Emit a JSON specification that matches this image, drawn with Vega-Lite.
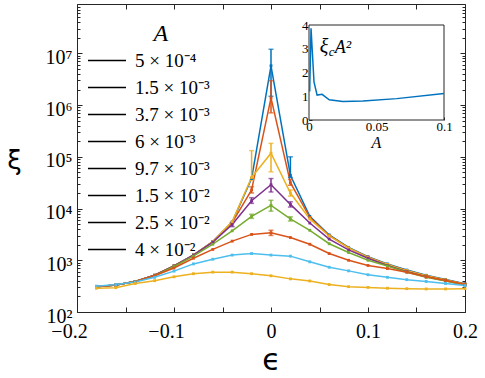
{
  "$schema": "https://vega.github.io/schema/vega-lite/v6.json",
  "width": 388,
  "height": 308,
  "autosize": {"type": "none"},
  "padding": {"left": 77, "top": 4, "right": 20, "bottom": 66},
  "background": "white",
  "config": {
    "view": {"stroke": "#262626", "strokeWidth": 1},
    "axis": {"grid": false, "domain": false, "labelFont": "Liberation Serif", "labelColor": "#000", "tickColor": "#262626", "tickWidth": 1, "titleColor": "#000", "titleFontWeight": "normal", "labelOverlap": false, "labelFlush": false}
  },
  "datasets": {
    "main": [
      {"A": "5 × 10⁻⁴", "eps": -0.18, "xi": 309}, {"A": "5 × 10⁻⁴", "eps": -0.16, "xi": 331}, {"A": "5 × 10⁻⁴", "eps": -0.14, "xi": 389}, {"A": "5 × 10⁻⁴", "eps": -0.12, "xi": 513}, {"A": "5 × 10⁻⁴", "eps": -0.1, "xi": 776}, {"A": "5 × 10⁻⁴", "eps": -0.08, "xi": 1259}, {"A": "5 × 10⁻⁴", "eps": -0.06, "xi": 2291}, {"A": "5 × 10⁻⁴", "eps": -0.04, "xi": 5495}, {"A": "5 × 10⁻⁴", "eps": -0.02, "xi": 38019}, {"A": "5 × 10⁻⁴", "eps": 0, "xi": 5754000, "lo": 1480000, "hi": 12000000}, {"A": "5 × 10⁻⁴", "eps": 0.02, "xi": 44000, "lo": 40000, "hi": 100000}, {"A": "5 × 10⁻⁴", "eps": 0.04, "xi": 7079}, {"A": "5 × 10⁻⁴", "eps": 0.06, "xi": 3090}, {"A": "5 × 10⁻⁴", "eps": 0.08, "xi": 1778}, {"A": "5 × 10⁻⁴", "eps": 0.1, "xi": 1175}, {"A": "5 × 10⁻⁴", "eps": 0.12, "xi": 851}, {"A": "5 × 10⁻⁴", "eps": 0.14, "xi": 646}, {"A": "5 × 10⁻⁴", "eps": 0.16, "xi": 513}, {"A": "5 × 10⁻⁴", "eps": 0.18, "xi": 427}, {"A": "5 × 10⁻⁴", "eps": 0.2, "xi": 351},
      {"A": "1.5 × 10⁻³", "eps": -0.18, "xi": 309}, {"A": "1.5 × 10⁻³", "eps": -0.16, "xi": 331}, {"A": "1.5 × 10⁻³", "eps": -0.14, "xi": 389}, {"A": "1.5 × 10⁻³", "eps": -0.12, "xi": 513}, {"A": "1.5 × 10⁻³", "eps": -0.1, "xi": 776}, {"A": "1.5 × 10⁻³", "eps": -0.08, "xi": 1259}, {"A": "1.5 × 10⁻³", "eps": -0.06, "xi": 2291}, {"A": "1.5 × 10⁻³", "eps": -0.04, "xi": 5370}, {"A": "1.5 × 10⁻³", "eps": -0.02, "xi": 22909, "lo": 20000, "hi": 26300}, {"A": "1.5 × 10⁻³", "eps": 0, "xi": 1380000, "lo": 708000, "hi": 2950000}, {"A": "1.5 × 10⁻³", "eps": 0.02, "xi": 31623, "lo": 28200, "hi": 36300}, {"A": "1.5 × 10⁻³", "eps": 0.04, "xi": 6761}, {"A": "1.5 × 10⁻³", "eps": 0.06, "xi": 3020}, {"A": "1.5 × 10⁻³", "eps": 0.08, "xi": 1738}, {"A": "1.5 × 10⁻³", "eps": 0.1, "xi": 1148}, {"A": "1.5 × 10⁻³", "eps": 0.12, "xi": 832}, {"A": "1.5 × 10⁻³", "eps": 0.14, "xi": 631}, {"A": "1.5 × 10⁻³", "eps": 0.16, "xi": 501}, {"A": "1.5 × 10⁻³", "eps": 0.18, "xi": 417}, {"A": "1.5 × 10⁻³", "eps": 0.2, "xi": 347},
      {"A": "3.7 × 10⁻³", "eps": -0.18, "xi": 309}, {"A": "3.7 × 10⁻³", "eps": -0.16, "xi": 331}, {"A": "3.7 × 10⁻³", "eps": -0.14, "xi": 389}, {"A": "3.7 × 10⁻³", "eps": -0.12, "xi": 513}, {"A": "3.7 × 10⁻³", "eps": -0.1, "xi": 776}, {"A": "3.7 × 10⁻³", "eps": -0.08, "xi": 1259}, {"A": "3.7 × 10⁻³", "eps": -0.06, "xi": 2291}, {"A": "3.7 × 10⁻³", "eps": -0.04, "xi": 5623}, {"A": "3.7 × 10⁻³", "eps": -0.02, "xi": 39811, "lo": 35500, "hi": 131800}, {"A": "3.7 × 10⁻³", "eps": 0, "xi": 117490, "lo": 51300, "hi": 182000}, {"A": "3.7 × 10⁻³", "eps": 0.02, "xi": 19953, "lo": 17400, "hi": 22900}, {"A": "3.7 × 10⁻³", "eps": 0.04, "xi": 6310}, {"A": "3.7 × 10⁻³", "eps": 0.06, "xi": 2951}, {"A": "3.7 × 10⁻³", "eps": 0.08, "xi": 1738}, {"A": "3.7 × 10⁻³", "eps": 0.1, "xi": 1148}, {"A": "3.7 × 10⁻³", "eps": 0.12, "xi": 832}, {"A": "3.7 × 10⁻³", "eps": 0.14, "xi": 631}, {"A": "3.7 × 10⁻³", "eps": 0.16, "xi": 501}, {"A": "3.7 × 10⁻³", "eps": 0.18, "xi": 417}, {"A": "3.7 × 10⁻³", "eps": 0.2, "xi": 343},
      {"A": "6 × 10⁻³", "eps": -0.18, "xi": 309}, {"A": "6 × 10⁻³", "eps": -0.16, "xi": 331}, {"A": "6 × 10⁻³", "eps": -0.14, "xi": 389}, {"A": "6 × 10⁻³", "eps": -0.12, "xi": 513}, {"A": "6 × 10⁻³", "eps": -0.1, "xi": 776}, {"A": "6 × 10⁻³", "eps": -0.08, "xi": 1259}, {"A": "6 × 10⁻³", "eps": -0.06, "xi": 2239}, {"A": "6 × 10⁻³", "eps": -0.04, "xi": 4898, "lo": 4470, "hi": 5370}, {"A": "6 × 10⁻³", "eps": -0.02, "xi": 14125, "lo": 12600, "hi": 16200}, {"A": "6 × 10⁻³", "eps": 0, "xi": 28840, "lo": 20900, "hi": 38000}, {"A": "6 × 10⁻³", "eps": 0.02, "xi": 12023, "lo": 10700, "hi": 13500}, {"A": "6 × 10⁻³", "eps": 0.04, "xi": 5248}, {"A": "6 × 10⁻³", "eps": 0.06, "xi": 2570}, {"A": "6 × 10⁻³", "eps": 0.08, "xi": 1585}, {"A": "6 × 10⁻³", "eps": 0.1, "xi": 1096}, {"A": "6 × 10⁻³", "eps": 0.12, "xi": 794}, {"A": "6 × 10⁻³", "eps": 0.14, "xi": 603}, {"A": "6 × 10⁻³", "eps": 0.16, "xi": 479}, {"A": "6 × 10⁻³", "eps": 0.18, "xi": 403}, {"A": "6 × 10⁻³", "eps": 0.2, "xi": 331},
      {"A": "9.7 × 10⁻³", "eps": -0.18, "xi": 309}, {"A": "9.7 × 10⁻³", "eps": -0.16, "xi": 331}, {"A": "9.7 × 10⁻³", "eps": -0.14, "xi": 389}, {"A": "9.7 × 10⁻³", "eps": -0.12, "xi": 501}, {"A": "9.7 × 10⁻³", "eps": -0.1, "xi": 759}, {"A": "9.7 × 10⁻³", "eps": -0.08, "xi": 1202}, {"A": "9.7 × 10⁻³", "eps": -0.06, "xi": 2042}, {"A": "9.7 × 10⁻³", "eps": -0.04, "xi": 3715}, {"A": "9.7 × 10⁻³", "eps": -0.02, "xi": 7079, "lo": 6460, "hi": 7760}, {"A": "9.7 × 10⁻³", "eps": 0, "xi": 11482, "lo": 8910, "hi": 14450}, {"A": "9.7 × 10⁻³", "eps": 0.02, "xi": 6310, "lo": 5750, "hi": 6920}, {"A": "9.7 × 10⁻³", "eps": 0.04, "xi": 3802}, {"A": "9.7 × 10⁻³", "eps": 0.06, "xi": 2089}, {"A": "9.7 × 10⁻³", "eps": 0.08, "xi": 1413}, {"A": "9.7 × 10⁻³", "eps": 0.1, "xi": 1000}, {"A": "9.7 × 10⁻³", "eps": 0.12, "xi": 776}, {"A": "9.7 × 10⁻³", "eps": 0.14, "xi": 589}, {"A": "9.7 × 10⁻³", "eps": 0.16, "xi": 468}, {"A": "9.7 × 10⁻³", "eps": 0.18, "xi": 398}, {"A": "9.7 × 10⁻³", "eps": 0.2, "xi": 331},
      {"A": "1.5 × 10⁻²", "eps": -0.18, "xi": 309}, {"A": "1.5 × 10⁻²", "eps": -0.16, "xi": 331}, {"A": "1.5 × 10⁻²", "eps": -0.14, "xi": 389}, {"A": "1.5 × 10⁻²", "eps": -0.12, "xi": 501}, {"A": "1.5 × 10⁻²", "eps": -0.1, "xi": 708}, {"A": "1.5 × 10⁻²", "eps": -0.08, "xi": 1096}, {"A": "1.5 × 10⁻²", "eps": -0.06, "xi": 1622}, {"A": "1.5 × 10⁻²", "eps": -0.04, "xi": 2344}, {"A": "1.5 × 10⁻²", "eps": -0.02, "xi": 3162}, {"A": "1.5 × 10⁻²", "eps": 0, "xi": 3388, "lo": 3020, "hi": 3800}, {"A": "1.5 × 10⁻²", "eps": 0.02, "xi": 2754}, {"A": "1.5 × 10⁻²", "eps": 0.04, "xi": 2042}, {"A": "1.5 × 10⁻²", "eps": 0.06, "xi": 1349}, {"A": "1.5 × 10⁻²", "eps": 0.08, "xi": 1000}, {"A": "1.5 × 10⁻²", "eps": 0.1, "xi": 794}, {"A": "1.5 × 10⁻²", "eps": 0.12, "xi": 692}, {"A": "1.5 × 10⁻²", "eps": 0.14, "xi": 589}, {"A": "1.5 × 10⁻²", "eps": 0.16, "xi": 479}, {"A": "1.5 × 10⁻²", "eps": 0.18, "xi": 407}, {"A": "1.5 × 10⁻²", "eps": 0.2, "xi": 339},
      {"A": "2.5 × 10⁻²", "eps": -0.18, "xi": 316}, {"A": "2.5 × 10⁻²", "eps": -0.16, "xi": 339}, {"A": "2.5 × 10⁻²", "eps": -0.14, "xi": 380}, {"A": "2.5 × 10⁻²", "eps": -0.12, "xi": 468}, {"A": "2.5 × 10⁻²", "eps": -0.1, "xi": 617}, {"A": "2.5 × 10⁻²", "eps": -0.08, "xi": 851}, {"A": "2.5 × 10⁻²", "eps": -0.06, "xi": 1047}, {"A": "2.5 × 10⁻²", "eps": -0.04, "xi": 1259}, {"A": "2.5 × 10⁻²", "eps": -0.02, "xi": 1349}, {"A": "2.5 × 10⁻²", "eps": 0, "xi": 1259}, {"A": "2.5 × 10⁻²", "eps": 0.02, "xi": 1202}, {"A": "2.5 × 10⁻²", "eps": 0.04, "xi": 933}, {"A": "2.5 × 10⁻²", "eps": 0.06, "xi": 733}, {"A": "2.5 × 10⁻²", "eps": 0.08, "xi": 624}, {"A": "2.5 × 10⁻²", "eps": 0.1, "xi": 525}, {"A": "2.5 × 10⁻²", "eps": 0.12, "xi": 468}, {"A": "2.5 × 10⁻²", "eps": 0.14, "xi": 422}, {"A": "2.5 × 10⁻²", "eps": 0.16, "xi": 389}, {"A": "2.5 × 10⁻²", "eps": 0.18, "xi": 355}, {"A": "2.5 × 10⁻²", "eps": 0.2, "xi": 324},
      {"A": "4 × 10⁻²", "eps": -0.18, "xi": 288}, {"A": "4 × 10⁻²", "eps": -0.16, "xi": 295}, {"A": "4 × 10⁻²", "eps": -0.14, "xi": 355}, {"A": "4 × 10⁻²", "eps": -0.12, "xi": 403}, {"A": "4 × 10⁻²", "eps": -0.1, "xi": 479}, {"A": "4 × 10⁻²", "eps": -0.08, "xi": 550}, {"A": "4 × 10⁻²", "eps": -0.06, "xi": 589}, {"A": "4 × 10⁻²", "eps": -0.04, "xi": 589}, {"A": "4 × 10⁻²", "eps": -0.02, "xi": 550}, {"A": "4 × 10⁻²", "eps": 0, "xi": 501}, {"A": "4 × 10⁻²", "eps": 0.02, "xi": 437}, {"A": "4 × 10⁻²", "eps": 0.04, "xi": 398}, {"A": "4 × 10⁻²", "eps": 0.06, "xi": 339}, {"A": "4 × 10⁻²", "eps": 0.08, "xi": 309}, {"A": "4 × 10⁻²", "eps": 0.1, "xi": 299}, {"A": "4 × 10⁻²", "eps": 0.12, "xi": 288}, {"A": "4 × 10⁻²", "eps": 0.14, "xi": 282}, {"A": "4 × 10⁻²", "eps": 0.16, "xi": 279}, {"A": "4 × 10⁻²", "eps": 0.18, "xi": 279}, {"A": "4 × 10⁻²", "eps": 0.2, "xi": 282}
    ],
    "inset": [
      {"A": 0.0005, "v": 1.2}, {"A": 0.0015, "v": 3.86}, {"A": 0.0037, "v": 1.6}, {"A": 0.006, "v": 1.05}, {"A": 0.0097, "v": 1.08}, {"A": 0.015, "v": 0.85}, {"A": 0.025, "v": 0.78}, {"A": 0.04, "v": 0.8}, {"A": 0.065, "v": 0.9}, {"A": 0.1, "v": 1.12}
    ]
  },
  "layer": [
    {
      "data": {"name": "main"},
      "layer": [
        {
          "mark": {"type": "line", "strokeWidth": 1.5},
          "encoding": {
            "x": {"field": "eps", "type": "quantitative", "scale": {"domain": [-0.2, 0.2], "nice": false, "zero": false},
              "axis": {"orient": "bottom", "values": [-0.2, -0.15, -0.1, -0.05, 0, 0.05, 0.1, 0.15, 0.2],
                "labelExpr": "abs(datum.value*10 - round(datum.value*10)) < 0.001 ? replace(format(datum.value, '.1~f'), '-', '−') : ''",
                "labelFontSize": 20, "tickSize": -5, "labelPadding": 14, "labelBaseline": "top",
                "labelOffset": {"condition": {"test": "datum.value < 0", "value": -8}, "value": 0},
                "title": "ϵ", "titleFont": "DejaVu Sans", "titleFontSize": 30, "titleX": 194, "titleY": 57, "titleAlign": "center", "titleBaseline": "alphabetic"}},
            "y": {"field": "xi", "type": "quantitative", "scale": {"type": "log", "domain": [100, 90000000], "nice": false},
              "axis": {"orient": "left",
                "values": [100,200,300,400,500,600,700,800,900,1000,2000,3000,4000,5000,6000,7000,8000,9000,10000,20000,30000,40000,50000,60000,70000,80000,90000,100000,200000,300000,400000,500000,600000,700000,800000,900000,1000000,2000000,3000000,4000000,5000000,6000000,7000000,8000000,9000000,10000000,20000000,30000000,40000000,50000000,60000000,70000000,80000000],
                "labelExpr": "abs(log(datum.value)/LN10 - round(log(datum.value)/LN10)) < 1e-6 ? '10' + ['⁰','¹','²','³','⁴','⁵','⁶','⁷','⁸','⁹'][round(log(datum.value)/LN10)] : ''",
                "tickSize": {"condition": {"test": "abs(log(datum.value)/LN10 - round(log(datum.value)/LN10)) < 1e-6", "value": -5}, "value": -3},
                "labelFontSize": 20, "labelPadding": 10, "labelBaseline": "middle", "labelOffset": 4,
                "title": "ξ", "titleAngle": 0, "titleFont": "DejaVu Sans", "titleFontSize": 26, "titleX": -63, "titleY": 156, "titleAlign": "center", "titleBaseline": "middle"}},
            "color": {"field": "A", "type": "nominal",
              "scale": {"domain": ["5 × 10⁻⁴", "1.5 × 10⁻³", "3.7 × 10⁻³", "6 × 10⁻³", "9.7 × 10⁻³", "1.5 × 10⁻²", "2.5 × 10⁻²", "4 × 10⁻²"],
                "range": ["#0072BD", "#D95319", "#EDB120", "#7E2F8E", "#77AC30", "#D95319", "#4DBEEE", "#EDB120"]},
              "legend": null}
          }
        },
        {
          "transform": [{"filter": "isValid(datum.hi)"}],
          "mark": {"type": "rule", "strokeWidth": 1.5},
          "encoding": {
            "x": {"field": "eps", "type": "quantitative"},
            "y": {"field": "lo", "type": "quantitative", "scale": {"type": "log", "domain": [100, 90000000], "nice": false}},
            "y2": {"field": "hi"},
            "color": {"field": "A", "type": "nominal", "legend": null}
          }
        },
        {
          "transform": [{"filter": "isValid(datum.hi)"}],
          "mark": {"type": "tick", "orient": "horizontal", "size": 5, "thickness": 1.5},
          "encoding": {
            "x": {"field": "eps", "type": "quantitative"},
            "y": {"field": "hi", "type": "quantitative", "scale": {"type": "log", "domain": [100, 90000000], "nice": false}},
            "color": {"field": "A", "type": "nominal", "legend": null}
          }
        },
        {
          "transform": [{"filter": "isValid(datum.lo)"}],
          "mark": {"type": "tick", "orient": "horizontal", "size": 5, "thickness": 1.5},
          "encoding": {
            "x": {"field": "eps", "type": "quantitative"},
            "y": {"field": "lo", "type": "quantitative", "scale": {"type": "log", "domain": [100, 90000000], "nice": false}},
            "color": {"field": "A", "type": "nominal", "legend": null}
          }
        },
        {
          "mark": {"type": "point", "shape": "square", "filled": true, "size": 8, "opacity": 1},
          "encoding": {
            "x": {"field": "eps", "type": "quantitative"},
            "y": {"field": "xi", "type": "quantitative", "scale": {"type": "log", "domain": [100, 90000000], "nice": false}},
            "color": {"field": "A", "type": "nominal", "legend": null}
          }
        },
        {
          "mark": {"type": "point", "filled": false, "color": "#000", "strokeWidth": 1.3, "opacity": 0},
          "encoding": {
            "x": {"field": "eps", "type": "quantitative"},
            "y": {"field": "xi", "type": "quantitative", "scale": {"type": "log", "domain": [100, 90000000], "nice": false}},
            "shape": {"field": "A", "type": "nominal",
              "sort": ["5 × 10⁻⁴", "1.5 × 10⁻³", "3.7 × 10⁻³", "6 × 10⁻³", "9.7 × 10⁻³", "1.5 × 10⁻²", "2.5 × 10⁻²", "4 × 10⁻²"],
              "scale": {"range": ["M-2,0H2", "M-2,0H2", "M-2,0H2", "M-2,0H2", "M-2,0H2", "M-2,0H2", "M-2,0H2", "M-2,0H2"]},
              "legend": {"orient": "none", "legendX": 19.5, "legendY": 18, "padding": 0,
                "title": "A", "titleFont": "Liberation Serif", "titleFontStyle": "italic", "titleFontSize": 24, "titleFontWeight": "normal", "titleColor": "#000", "titleAnchor": "middle", "titleAlign": "left", "titlePadding": 4,
                "labelFont": "Liberation Serif", "labelFontSize": 19, "labelColor": "#000", "labelOffset": 17.5,
                "symbolSize": 361, "symbolStrokeWidth": 1.3, "symbolStrokeColor": "#000", "symbolFillColor": "transparent", "symbolOpacity": 1, "rowPadding": 6}}
          }
        }
      ]
    },
    {
      "data": {"values": [{}]},
      "mark": {"type": "point", "opacity": 0},
      "encoding": {
        "x": {"datum": 0, "type": "quantitative", "scale": {"domain": [-0.2, 0.2], "nice": false, "zero": false},
          "axis": {"orient": "top", "values": [-0.2, -0.15, -0.1, -0.05, 0, 0.05, 0.1, 0.15, 0.2], "labels": false, "tickSize": -5, "title": null}},
        "y": {"datum": 1000, "type": "quantitative", "scale": {"type": "log", "domain": [100, 90000000], "nice": false},
          "axis": {"orient": "right", "labels": false, "title": null,
            "values": [100,200,300,400,500,600,700,800,900,1000,2000,3000,4000,5000,6000,7000,8000,9000,10000,20000,30000,40000,50000,60000,70000,80000,90000,100000,200000,300000,400000,500000,600000,700000,800000,900000,1000000,2000000,3000000,4000000,5000000,6000000,7000000,8000000,9000000,10000000,20000000,30000000,40000000,50000000,60000000,70000000,80000000],
            "tickSize": {"condition": {"test": "abs(log(datum.value)/LN10 - round(log(datum.value)/LN10)) < 1e-6", "value": -5}, "value": -3}}}
      }
    },
    {
      "layer": [
        {
          "data": {"values": [{}]},
          "mark": {"type": "rect", "fill": "white", "stroke": "#262626", "strokeWidth": 1},
          "encoding": {
            "x": {"datum": 0, "type": "quantitative", "scale": {"domain": [0, 0.1], "range": [232, 367], "nice": false, "zero": false},
              "axis": {"orient": "bottom", "offset": -192, "values": [0, 0.05, 0.1], "labelFontSize": 13, "tickSize": -3, "labelPadding": 3.5, "labelBaseline": "top",
                "labelExpr": "format(datum.value, '~g')",
                "title": "A", "titleFont": "Liberation Serif", "titleFontStyle": "italic", "titleFontSize": 16, "titleX": 299, "titleY": 27, "titleAlign": "center", "titleBaseline": "alphabetic"}},
            "x2": {"datum": 0.1},
            "y": {"datum": 0, "type": "quantitative", "scale": {"domain": [0, 4], "range": [116, 21], "nice": false, "zero": false},
              "axis": {"orient": "left", "offset": -232, "values": [0, 1, 2, 3, 4], "labelExpr": "format(datum.value, '~g')", "labelFontSize": 13, "tickSize": -3, "labelPadding": 4, "title": null}},
            "y2": {"datum": 4}
          }
        },
        {
          "data": {"name": "inset"},
          "mark": {"type": "line", "color": "#0072BD", "strokeWidth": 1.5},
          "encoding": {
            "x": {"field": "A", "type": "quantitative"},
            "y": {"field": "v", "type": "quantitative"}
          }
        },
        {
          "data": {"values": [{}]},
          "mark": {"type": "text", "text": "ξ", "font": "Liberation Serif", "fontStyle": "italic", "fontSize": 20, "align": "left", "baseline": "alphabetic", "color": "#000"},
          "encoding": {"x": {"datum": 0.008, "type": "quantitative"}, "y": {"datum": 2.82, "type": "quantitative"}}
        },
        {
          "data": {"values": [{}]},
          "mark": {"type": "text", "text": "c", "font": "Liberation Serif", "fontStyle": "italic", "fontSize": 13, "align": "left", "baseline": "alphabetic", "dx": 9, "dy": 3, "color": "#000"},
          "encoding": {"x": {"datum": 0.008, "type": "quantitative"}, "y": {"datum": 2.82, "type": "quantitative"}}
        },
        {
          "data": {"values": [{}]},
          "mark": {"type": "text", "text": "A²", "font": "Liberation Serif", "fontStyle": "italic", "fontSize": 18, "align": "left", "baseline": "alphabetic", "dx": 15, "color": "#000"},
          "encoding": {"x": {"datum": 0.008, "type": "quantitative"}, "y": {"datum": 2.82, "type": "quantitative"}}
        }
      ]
    }
  ],
  "resolve": {"scale": {"x": "independent", "y": "independent"}}
}
